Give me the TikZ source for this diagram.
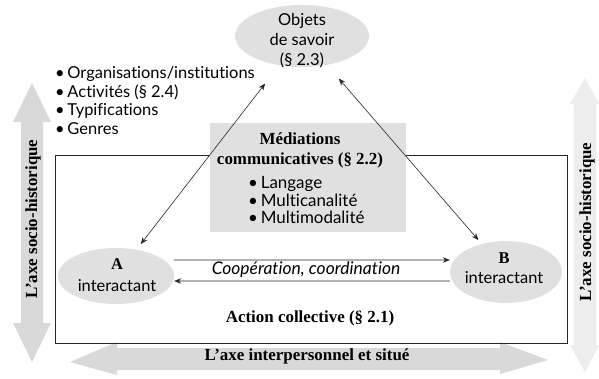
\documentclass[tikz,border=0pt]{standalone}
\usepackage{fontspec}
\setmainfont{Liberation Serif}
\newfontfamily\bodyf[Ligatures=NoCommon]{Lato}
\usetikzlibrary{shapes.geometric,arrows.meta}
\definecolor{blob}{HTML}{E0E0E0}
\definecolor{axisl}{HTML}{D9D9D9}
\definecolor{axisr}{HTML}{EDEDED}
\tikzset{
 blobell/.style={ellipse, fill=blob, inner sep=0pt},
 body/.style={font=\bodyf\fontsize{16.5}{19}\selectfont, inner sep=0pt},
 boldt/.style={font=\bfseries\fontsize{17}{20}\selectfont, inner sep=0pt},
 conn/.style={draw=black!85, line width=0.6pt},
 tip/.style={-{Stealth[length=7bp,width=5.5bp]}},
 dtip/.style={{Stealth[length=7bp,width=5.5bp]}-{Stealth[length=7bp,width=5.5bp]}},
}
\begin{document}
\begin{tikzpicture}[x=1bp,y=-1bp]
\useasboundingbox (0,0) rectangle (599,378);
\fill[white] (0,0) rectangle (599,378);
% big axis arrows
\fill[axisr] (585,78) -- (599,104) -- (596,104) -- (596,345) -- (599,345) -- (585,372) -- (570,345) -- (574,345) -- (574,104) -- (570,104) -- cycle;
\fill[axisl] (32,83) -- (51,122) -- (43,122) -- (43,323) -- (51,323) -- (32,362) -- (13,323) -- (21,323) -- (21,122) -- (13,122) -- cycle;
\fill[axisl] (70,362) -- (117,342) -- (117,348) -- (500,348) -- (500,342) -- (548,360) -- (500,374) -- (500,370) -- (117,370) -- (117,375) -- cycle;
\node[boldt, rotate=90] (axl) at (33,219) {L’axe socio-historique};
\node[boldt, rotate=90] (axr) at (587,222) {L’axe socio-historique};
\node[boldt] (axb) at (307,356) {L’axe interpersonnel et situé};
% mediations box
\fill[blob] (210,123) rectangle (406,232);
% frame
\draw[conn] (209,155) -- (55,155) -- (55,343) -- (567,343) -- (567,155) -- (406,155);
\node[boldt, align=center] (medt) at (300,150) {Médiations\\communicatives (§ 2.2)};
\node[body, font=\bodyf\fontsize{17}{18}\selectfont, align=left, anchor=west] (medl) at (248,200) {\textbullet\,Langage\\\textbullet\,Multicanalité\\\textbullet\,Multimodalité};
% objects of knowledge
\node[blobell, minimum width=134bp, minimum height=62bp] (obj) at (302,36) {};
\node[body, align=center, font=\bodyf\fontsize{16.5}{20}\selectfont] (objt) at (302,41) {Objets\\de savoir\\(§ 2.3)};
\node[body, align=left, anchor=west] (list) at (55,100.5) {\textbullet\,Organisations/institutions\\\textbullet\,Activités (§ 2.4)\\\textbullet\,Typifications\\\textbullet\,Genres};
% interactants
\node[blobell, minimum width=116bp, minimum height=56bp] (A) at (116,276) {};
\node[align=center, inner sep=0pt, font=\bodyf\fontsize{16.5}{22}\selectfont] (At) at (117,275) {{\rmfamily\bfseries A}\\interactant};
\node[blobell, minimum width=112bp, minimum height=62bp] (B) at (506,272) {};
\node[align=center, inner sep=0pt, font=\bodyf\fontsize{16.5}{20}\selectfont] (Bt) at (504,268) {{\rmfamily\bfseries B}\\interactant};
% connectors
\draw[conn, tip] ([yshift=16bp]A.east) -- ([yshift=12bp]B.west);
\draw[conn, tip] ([yshift=-9bp]B.west) -- ([yshift=-5bp]A.east);
\node[body, font=\bodyf\itshape\fontsize{17.5}{19}\selectfont] (coop) at (306,270) {Coopération, coordination};
\draw[conn, dtip, shorten <=23bp, shorten >=7bp] (obj) -- (A);
\draw[conn, dtip, shorten <=18bp, shorten >=5bp] (obj) -- (B);
\node[boldt] (act) at (310,318) {Action collective (§ 2.1)};
\end{tikzpicture}
\end{document}
